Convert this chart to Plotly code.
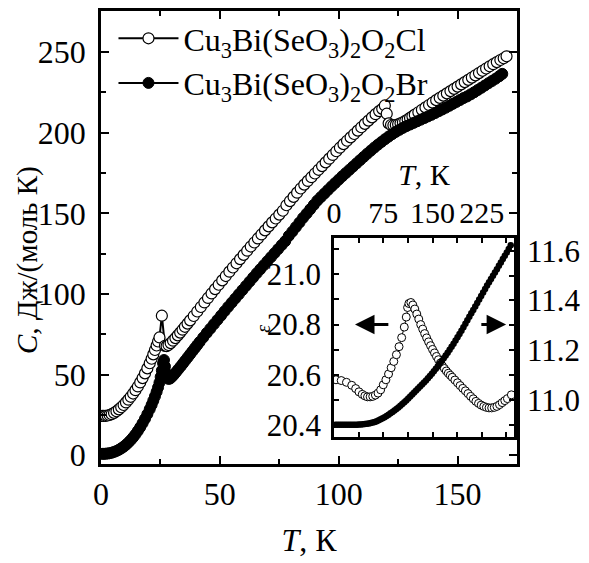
import plotly.graph_objects as go

# ---------------- main panel data ----------------
T_cl = [0.5,1.2,2.0,2.8,3.6,4.5,5.5,6.5,7.5,8.5,9.5,10.5,11.5,12.5,13.5,14.5,15.5,16.5,17.5,18.5,19.5,20.5,21.3,22.0,22.7,23.4,24.0,24.6,25.6,
        26.9,27.6,28.4,29.3,30.3,31.3,32.3,33.3,34.3,35.3,36.4,37.5,39.0,40.5,42.0,43.5,45.0,46.5,48.0,49.5,51.0,52.5,54.0,55.5,57.0,58.5,
        60.0,61.5,63.0,64.5,66.0,67.5,69.0,70.5,72.0,73.5,75.0,76.5,78.0,79.5,81.0,82.5,84.0,85.5,87.0,88.5,90.0,91.5,93.0,94.5,96.0,97.5,
        99.0,100.5,102.0,103.5,105.0,106.5,108.0,109.5,111.0,112.5,114.0,115.5,117.0,118.3,119.4,120.2,121.0,122.0,123.0,124.0,125.0,126.0,
        127.0,128.0,129.0,130.0,131.0,132.0,133.5,135.0,136.5,138.0,139.5,141.0,142.5,144.0,145.5,147.0,148.5,150.0,151.5,153.0,154.5,156.0,
        157.5,159.0,160.5,162.0,163.5,165.0,166.5,168.0,169.4,170.6]
C_cl = [24.3,24.3,24.4,24.6,24.9,25.4,26.2,27.2,28.4,29.7,31.1,32.7,34.4,36.2,38.2,40.3,42.6,45.1,47.8,50.7,53.8,57.0,59.8,62.5,65.2,68.0,70.5,73.0,86.5,
        67.8,67.6,68.3,69.5,71.0,72.6,74.3,76.0,77.8,79.6,81.6,83.6,86.3,89.1,91.9,94.7,97.5,100.3,103.0,105.7,108.4,111.1,113.8,116.4,119.0,121.6,
        124.2,126.8,129.4,131.9,134.4,136.9,139.4,141.9,144.4,146.8,149.2,151.6,155.0,157.6,160.2,162.8,165.4,167.8,170.1,172.4,174.7,177.0,179.3,181.6,183.9,186.2,
        188.5,190.7,192.9,195.0,197.1,199.2,201.3,203.4,205.5,207.5,209.5,211.5,213.4,214.8,216.9,211.8,205.8,204.8,204.6,204.8,205.2,205.8,
        206.5,207.3,208.2,209.2,210.2,211.2,212.7,214.2,215.7,217.2,218.7,220.2,221.6,223.0,224.4,225.8,227.2,228.6,230.0,231.4,232.8,234.2,
        235.6,237.0,238.4,239.8,241.2,242.5,243.8,245.1,246.2,247.4]

T_br = [0.5,1.2,2.0,2.8,3.6,4.5,5.5,6.5,7.5,8.5,9.5,10.5,11.5,12.5,13.5,14.5,15.5,16.5,17.5,18.5,19.5,20.5,21.3,22.0,22.7,23.4,24.0,24.6,25.1,25.6,26.1,26.5,
        26.9,27.3,27.8,28.4,29.0,29.8,30.6,31.5,32.5,33.5,34.5,35.5,36.5,37.5,38.5,39.5,40.5,41.5,43.0,44.5,46.0,47.5,49.0,50.5,52.0,53.5,55.0,56.5,
        58.0,59.5,61.0,62.5,64.0,65.5,67.0,68.5,70.0,71.5,73.0,74.5,76.0,77.5,79.0,80.5,82.0,83.5,85.0,86.5,88.0,89.5,91.0,92.5,94.0,95.5,97.0,98.5,
        100.0,101.5,103.0,104.5,106.0,107.5,109.0,110.5,112.0,113.5,115.0,116.5,118.0,119.5,121.0,122.5,124.0,125.5,127.0,128.5,130.0,131.5,133.0,
        134.5,136.0,137.5,139.0,140.5,142.0,143.5,145.0,146.5,148.0,149.5,151.0,152.5,154.0,155.5,157.0,158.5,160.0,161.5,163.0,164.5,166.0,167.5,168.8]
C_br = [0.8,0.8,0.9,1.0,1.2,1.5,2.0,2.6,3.3,4.2,5.2,6.4,7.8,9.3,11.0,12.9,15.0,17.3,19.8,22.5,25.4,28.5,31.2,33.8,36.5,39.3,42.0,45.0,48.5,52.5,57.0,59.0,
        55.0,51.0,48.5,47.3,47.5,48.5,49.8,51.4,53.2,55.0,56.9,58.8,60.7,62.6,64.5,66.4,68.3,70.2,73.0,75.8,78.5,81.2,83.9,86.6,89.3,92.0,94.6,97.2,
        99.8,102.4,105.0,107.6,110.2,112.8,115.3,117.8,120.3,122.8,125.3,127.8,130.3,132.7,136.0,138.7,141.5,144.3,147.2,149.8,152.5,155.2,157.9,160.1,162.3,164.5,166.7,168.8,
        170.9,173.0,175.0,177.0,179.0,181.0,183.0,185.0,187.0,188.9,190.8,192.6,194.3,196.0,197.6,199.1,200.5,201.8,203.0,204.1,205.1,206.1,207.1,
        208.1,209.1,210.1,211.1,212.2,213.3,214.4,215.5,216.7,217.9,219.1,220.3,221.5,222.5,223.8,225.1,226.5,227.9,229.3,230.7,232.1,233.5,235.0,236.5]

# ---------------- inset data ----------------
Ti_cl = [3,11,19,27,33,38,43,47,51,55,59,63,67,71,75,79,83,87,91,95,99,103,107,110,112,114,117,120,123,126,129,132,135,138,141,144,147,150,
         153,156,159,162,165,168,171,174,177,180,184,188,192,196,200,204,208,212,216,220,224,228,232,236,240,244,248,252,256,260,264,270]
eps_cl = [20.580,20.577,20.570,20.558,20.545,20.532,20.522,20.516,20.512,20.512,20.514,20.519,20.527,20.540,20.560,20.580,20.603,20.628,20.653,20.680,
          20.712,20.748,20.790,20.830,20.868,20.884,20.888,20.878,20.862,20.842,20.822,20.800,20.782,20.764,20.747,20.731,20.716,20.701,
          20.687,20.673,20.660,20.647,20.635,20.625,20.615,20.606,20.598,20.590,20.579,20.568,20.557,20.546,20.536,20.525,20.514,20.504,20.494,
          20.486,20.479,20.474,20.470,20.468,20.468,20.470,20.474,20.481,20.489,20.497,20.505,20.520]

Ti_br = [2,5,8,11,14,17,20,23,26,29,32,35,38,41,44,47,50,53,56,59,62,65,68,71,74,77,80,83,86,89,92,95,98,101,104,107,110,113,116,119,122,125,
         128,131,134,137,140,143,146,149,152,155,158,161,164,167,170,173,176,179,182,185,188,191,194,197,200,203,206,209,212,215,218,221,224,
         227,230,233,236,239,242,245,248,251,254,257,260,263,266,269]
v_br = [10.900,10.900,10.900,10.900,10.900,10.900,10.900,10.900,10.900,10.900,10.900,10.900,10.901,10.901,10.902,10.903,10.904,10.905,10.907,10.909,
        10.911,10.914,10.918,10.922,10.926,10.930,10.935,10.940,10.946,10.952,10.958,10.964,10.970,10.977,10.984,10.991,10.998,11.006,11.014,11.022,
        11.030,11.038,11.046,11.054,11.062,11.070,11.078,11.087,11.096,11.105,11.115,11.125,11.135,11.146,11.157,11.168,11.179,11.190,11.202,11.214,
        11.226,11.239,11.252,11.265,11.278,11.292,11.306,11.320,11.334,11.348,11.362,11.376,11.390,11.404,11.418,11.432,11.446,11.460,11.473,11.486,
        11.499,11.512,11.525,11.539,11.553,11.567,11.580,11.593,11.607,11.622]

name_cl = "Cu<sub>3</sub>Bi(SeO<sub>3</sub>)<sub>2</sub>O<sub>2</sub>Cl"
name_br = "Cu<sub>3</sub>Bi(SeO<sub>3</sub>)<sub>2</sub>O<sub>2</sub>Br"

FONT = "Liberation Serif"
FS = 32
FSI = 30

fig = go.Figure()
fig.add_trace(go.Scatter(x=T_cl, y=C_cl, name=name_cl, mode="lines+markers",
                         line=dict(color="black", width=2),
                         marker=dict(symbol="circle", size=11, color="white", line=dict(color="black", width=1.2)),
                         xaxis="x", yaxis="y"))
fig.add_trace(go.Scatter(x=T_br, y=C_br, name=name_br, mode="lines+markers",
                         line=dict(color="black", width=2),
                         marker=dict(symbol="circle", size=11, color="black", line=dict(color="black", width=1)),
                         xaxis="x", yaxis="y"))
fig.add_trace(go.Scatter(x=Ti_cl, y=eps_cl, mode="lines+markers", showlegend=False,
                         line=dict(color="black", width=1),
                         marker=dict(symbol="circle", size=8, color="white", line=dict(color="black", width=1)),
                         xaxis="x2", yaxis="y2"))
fig.add_trace(go.Scatter(x=Ti_br, y=v_br, mode="lines+markers", showlegend=False,
                         line=dict(color="black", width=1),
                         marker=dict(symbol="circle", size=6.5, color="black"),
                         xaxis="x2", yaxis="y3"))

axcommon = dict(showline=True, linecolor="black", linewidth=2.5, ticks="inside", tickcolor="black",
                tickwidth=2, mirror="allticks", showgrid=False, zeroline=False, automargin=False,
                tickfont=dict(family=FONT, size=FS, color="black"), tickangle=0)
inset_font = dict(family=FONT, size=FSI, color="black")

fig.update_layout(
    width=589, height=563,
    margin=dict(l=101, r=72, t=11, b=99),
    paper_bgcolor="white", plot_bgcolor="white",
    font=dict(family=FONT, size=FS, color="black"),
    showlegend=True,
    legend=dict(x=0.03, y=1.0, xanchor="left", yanchor="top", bgcolor="rgba(0,0,0,0)",
                font=dict(family=FONT, size=FS, color="black"), itemwidth=60, tracegroupgap=0),
    xaxis=dict(axcommon, domain=[0, 1], range=[0, 175], tickvals=[0, 50, 100, 150], ticklen=8,
               minor=dict(dtick=25, ticklen=5, tickcolor="black", tickwidth=2, ticks="inside"),
               title=dict(text="<i>T</i>, К", font=dict(family=FONT, size=FS), standoff=18),
               ticklabelstandoff=0),
    yaxis=dict(axcommon, domain=[0, 1], range=[-5.5, 275.5], tickvals=[0, 50, 100, 150, 200, 250], ticklen=8,
               minor=dict(dtick=25, ticklen=5, tickcolor="black", tickwidth=2, ticks="inside"),
               ticklabelstandoff=6),
    xaxis2=dict(axcommon, domain=[0.5601, 0.9928], anchor="y2", side="top", range=[0, 274],
                tickvals=[0, 75, 150, 225], ticklen=5, mirror="allticks", tickfont=inset_font,
                minor=dict(dtick=37.5, ticklen=5, tickcolor="black", tickwidth=2, ticks="inside"),
                title=dict(text="<i>T</i>, К", font=inset_font, standoff=2),
                ticklabelstandoff=0),
    yaxis2=dict(axcommon, domain=[0.0596, 0.4989], anchor="x2", range=[20.352, 21.145], mirror=False,
                tickvals=[20.4, 20.6, 20.8, 21.0], tickformat=".1f", ticklen=5, tickfont=dict(inset_font, size=31),
                minor=dict(dtick=0.1, ticklen=5, tickcolor="black", tickwidth=2, ticks="inside"),
                ticklabelstandoff=4),
    yaxis3=dict(axcommon, overlaying="y2", side="right", anchor="x2", range=[10.851, 11.651], mirror=False,
                tickvals=[11.0, 11.2, 11.4, 11.6], tickformat=".1f", ticklen=5, tickfont=dict(inset_font, size=31),
                minor=dict(dtick=0.1, ticklen=5, tickcolor="black", tickwidth=2, ticks="inside"),
                ticklabelstandoff=4),
)

# main y-axis title
fig.add_annotation(text="<i>C</i>, Дж/(моль К)", xref="paper", yref="paper", x=-0.178, y=0.45,
                   xanchor="center", yanchor="middle", showarrow=False, textangle=-90,
                   font=dict(family=FONT, size=29, color="black"))
# epsilon label for inset left axis
fig.add_annotation(text="<i>ε</i>", xref="paper", yref="paper", x=0.389, y=0.285, showarrow=False,
                   textangle=-90, font=dict(family=FONT, size=20, color="black"))
# arrows indicating axes
fig.add_annotation(x=32, y=20.8, ax=85, ay=20.8, xref="x2", yref="y2", axref="x2", ayref="y2",
                   showarrow=True, arrowhead=2, arrowsize=1.3, arrowwidth=3, arrowcolor="black", text="")
fig.add_annotation(x=262, y=20.8, ax=222, ay=20.8, xref="x2", yref="y2", axref="x2", ayref="y2",
                   showarrow=True, arrowhead=2, arrowsize=1.3, arrowwidth=3, arrowcolor="black", text="")

fig.write_html("out.html", config={"displayModeBar": False},
               post_script="document.body.style.margin='0px';document.body.style.overflow='hidden';")
